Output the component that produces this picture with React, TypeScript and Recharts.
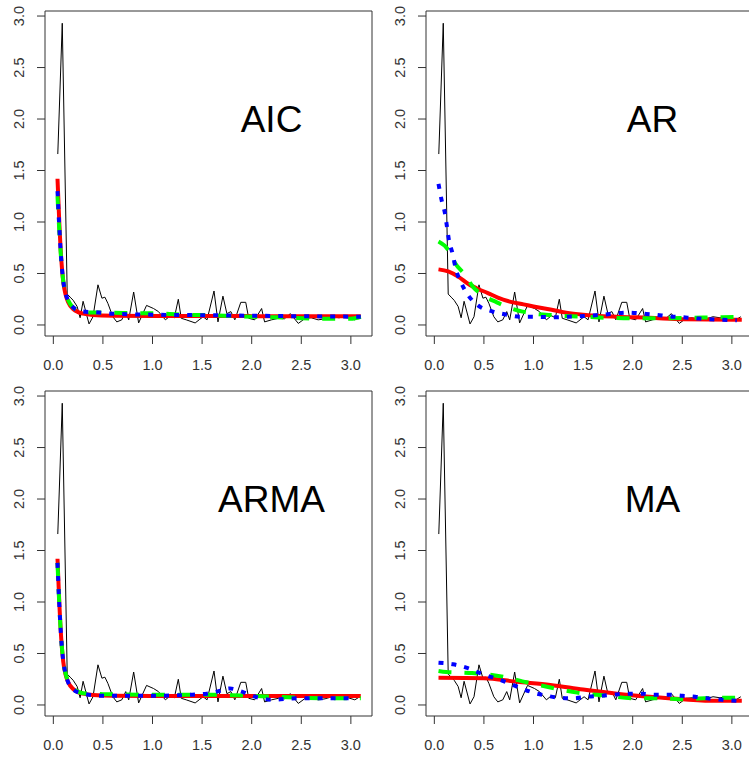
import { LineChart, Line, XAxis, YAxis, ReferenceArea, ReferenceDot } from "recharts";

const FONT = '"Liberation Sans", Arial, sans-serif';

// raw periodogram (same in every panel)
const freq = [
  0.045, 0.09, 0.14, 0.17, 0.2, 0.24, 0.27, 0.3, 0.36, 0.4, 0.45, 0.49, 0.52, 0.55, 0.6, 0.64,
  0.69, 0.73, 0.76, 0.81, 0.86, 0.94, 1.01, 1.06, 1.13, 1.18, 1.22, 1.26, 1.29, 1.34, 1.43, 1.51,
  1.55, 1.62, 1.66, 1.71, 1.75, 1.79, 1.83, 1.89, 1.94, 1.97, 2.03, 2.1, 2.13, 2.2, 2.27, 2.33,
  2.39, 2.47, 2.54, 2.6, 2.67, 2.74, 2.81, 2.88, 2.94, 3.04, 3.09,
];
const power = [
  1.66, 2.93, 0.3, 0.27, 0.24, 0.18, 0.07, 0.23, 0.01, 0.08, 0.39, 0.26, 0.27, 0.21, 0.08, 0.03,
  0.05, 0.13, 0.05, 0.32, 0.02, 0.19, 0.16, 0.13, 0.05, 0.09, 0.07, 0.25, 0.065, 0.05, 0.02, 0.08,
  0.05, 0.33, 0.03, 0.28, 0.11, 0.13, 0.05, 0.22, 0.22, 0.065, 0.05, 0.16, 0.03, 0.05, 0.065, 0.06,
  0.11, 0.015, 0.065, 0.07, 0.05, 0.06, 0.08, 0.07, 0.08, 0.05, 0.08,
];

// fitted spectra [freq, density]
const aicRed = [[0.042, 1.42], [0.06, 1.0], [0.08, 0.64], [0.1, 0.42], [0.125, 0.29], [0.15, 0.22], [0.2, 0.155], [0.25, 0.125], [0.3, 0.11], [0.4, 0.097], [0.6, 0.09], [1.0, 0.087], [2.0, 0.086], [3.1, 0.085]];
const aicGreen = [[0.042, 1.25], [0.06, 0.92], [0.08, 0.62], [0.1, 0.43], [0.125, 0.31], [0.15, 0.24], [0.2, 0.17], [0.25, 0.14], [0.3, 0.125], [0.4, 0.12], [0.6, 0.12], [0.8, 0.115], [1.0, 0.115], [1.3, 0.1], [1.6, 0.095], [2.0, 0.08], [2.4, 0.07], [2.7, 0.06], [3.0, 0.06], [3.1, 0.08]];
const aicBlue = [[0.042, 1.3], [0.06, 0.95], [0.08, 0.63], [0.1, 0.43], [0.125, 0.3], [0.15, 0.24], [0.2, 0.17], [0.25, 0.14], [0.3, 0.13], [0.4, 0.125], [0.6, 0.11], [1.0, 0.1], [1.5, 0.095], [2.0, 0.09], [2.5, 0.085], [3.1, 0.08]];

const arRed = [[0.042, 0.54], [0.14, 0.52], [0.24, 0.47], [0.34, 0.4], [0.44, 0.35], [0.54, 0.31], [0.64, 0.265], [0.77, 0.225], [0.9, 0.2], [1.0, 0.18], [1.17, 0.15], [1.33, 0.12], [1.5, 0.1], [1.84, 0.08], [2.17, 0.07], [2.51, 0.055], [3.1, 0.05]];
const arGreen = [[0.042, 0.81], [0.14, 0.73], [0.21, 0.6], [0.31, 0.485], [0.39, 0.37], [0.49, 0.29], [0.63, 0.22], [0.75, 0.17], [0.89, 0.13], [1.01, 0.11], [1.2, 0.095], [1.5, 0.08], [1.75, 0.07], [2.0, 0.065], [2.3, 0.065], [2.6, 0.07], [2.9, 0.075], [3.1, 0.08]];
const arBlue = [[0.042, 1.37], [0.074, 1.21], [0.108, 1.08], [0.128, 0.95], [0.15, 0.81], [0.185, 0.69], [0.215, 0.55], [0.27, 0.41], [0.34, 0.29], [0.44, 0.19], [0.59, 0.13], [0.73, 0.1], [0.86, 0.08], [1.0, 0.08], [1.2, 0.075], [1.35, 0.08], [1.55, 0.09], [1.7, 0.1], [1.85, 0.115], [1.96, 0.12], [2.1, 0.11], [2.23, 0.1], [2.36, 0.085], [2.5, 0.075], [2.63, 0.065], [2.77, 0.055], [2.9, 0.05], [3.05, 0.045]];

const armaRed = [[0.042, 1.42], [0.06, 1.0], [0.08, 0.64], [0.1, 0.42], [0.125, 0.29], [0.15, 0.22], [0.2, 0.155], [0.25, 0.125], [0.3, 0.11], [0.4, 0.097], [0.6, 0.09], [1.0, 0.088], [2.0, 0.087], [3.1, 0.087]];
const armaGreen = [[0.042, 1.38], [0.06, 0.98], [0.08, 0.64], [0.1, 0.43], [0.125, 0.3], [0.15, 0.23], [0.2, 0.16], [0.25, 0.13], [0.3, 0.115], [0.5, 0.105], [1.0, 0.1], [1.5, 0.1], [1.8, 0.095], [2.1, 0.085], [2.5, 0.07], [2.8, 0.065], [3.1, 0.065]];
const armaBlue = [[0.042, 1.38], [0.06, 0.98], [0.08, 0.64], [0.1, 0.43], [0.125, 0.3], [0.15, 0.22], [0.2, 0.15], [0.3, 0.11], [0.5, 0.09], [1.0, 0.09], [1.4, 0.1], [1.55, 0.11], [1.65, 0.13], [1.78, 0.16], [1.9, 0.13], [2.0, 0.09], [2.1, 0.065], [2.2, 0.05], [2.35, 0.06], [2.5, 0.065], [2.7, 0.065], [3.05, 0.065]];

const maRed = [[0.042, 0.265], [0.5, 0.26], [0.83, 0.226], [1.17, 0.195], [1.5, 0.15], [1.84, 0.11], [2.17, 0.08], [2.51, 0.055], [2.85, 0.04], [3.1, 0.04]];
const maGreen = [[0.042, 0.33], [0.12, 0.32], [0.38, 0.31], [0.66, 0.28], [0.93, 0.22], [1.17, 0.17], [1.44, 0.12], [1.74, 0.09], [2.0, 0.065], [2.28, 0.065], [2.51, 0.055], [2.82, 0.07], [3.1, 0.07]];
const maBlue = [[0.042, 0.41], [0.19, 0.395], [0.33, 0.36], [0.46, 0.31], [0.61, 0.26], [0.73, 0.22], [0.88, 0.16], [1.0, 0.12], [1.13, 0.09], [1.27, 0.07], [1.4, 0.065], [1.54, 0.08], [1.69, 0.09], [1.8, 0.1], [1.96, 0.11], [2.09, 0.11], [2.23, 0.1], [2.36, 0.1], [2.5, 0.09], [2.63, 0.08], [2.75, 0.065], [2.9, 0.05], [3.05, 0.04]];

const titles = ["AIC", "AR", "ARMA", "MA"];
const fits = [
  [aicRed, aicGreen, aicBlue],
  [arRed, arGreen, arBlue],
  [armaRed, armaGreen, armaBlue],
  [maRed, maGreen, maBlue],
];
const xTicks = [0, 0.5, 1, 1.5, 2, 2.5, 3];
const yTicks = [0, 0.5, 1, 1.5, 2, 2.5, 3];

const X_DOMAIN: [number, number] = [-0.084, 3.213];
const Y_DOMAIN: [number, number] = [-0.107, 3.049];
const POS = [
  { left: 0, top: 0 },
  { left: 381, top: 0 },
  { left: 0, top: 380 },
  { left: 381, top: 380 },
];

const pgram = freq.map((f, i) => ({ x: f, y: power[i] }));
const toPts = (pairs: number[][]) => pairs.map(([x, y]) => ({ x, y }));

function YTick(props: any) {
  const { x, y, payload } = props;
  const tx = x - 11;
  return (
    <text x={tx} y={y} transform={`rotate(-90 ${tx} ${y})`} textAnchor="middle" fontSize={14.5} fill="#333" fontFamily={FONT}>
      {payload.value.toFixed(1)}
    </text>
  );
}

function XTick(props: any) {
  const { x, y, payload } = props;
  return (
    <text x={x} y={y + 14} dy="0.71em" textAnchor="middle" fontSize={14.5} fill="#333" fontFamily={FONT}>
      {payload.value.toFixed(1)}
    </text>
  );
}

function Panel({ idx }: { idx: number }) {
  const [red, green, blue] = fits[idx];
  return (
    <div style={{ position: "absolute", left: POS[idx].left, top: POS[idx].top }}>
      <LineChart width={375} height={380} margin={{ top: 11, right: 3, left: 5, bottom: 4 }}>
        <XAxis
          type="number"
          dataKey="x"
          domain={X_DOMAIN}
          ticks={xTicks}
          allowDataOverflow
          axisLine={false}
          tickLine={{ stroke: "#333" }}
          tickSize={8}
          height={40}
          tick={<XTick />}
          interval={0}
        />
        <YAxis
          type="number"
          dataKey="y"
          domain={Y_DOMAIN}
          ticks={yTicks}
          allowDataOverflow
          axisLine={false}
          tickLine={{ stroke: "#333" }}
          tickSize={8}
          width={40}
          tick={<YTick />}
          interval={0}
        />
        <ReferenceArea x1={X_DOMAIN[0]} x2={X_DOMAIN[1]} y1={Y_DOMAIN[0]} y2={Y_DOMAIN[1]} fill="none" stroke="#333" strokeWidth={1} />
        <Line data={pgram} dataKey="y" type="linear" stroke="#000" strokeWidth={1} dot={false} isAnimationActive={false} />
        <Line data={toPts(red)} dataKey="y" type="monotone" stroke="#ff0000" strokeWidth={4} dot={false} isAnimationActive={false} />
        <Line data={toPts(green)} dataKey="y" type="monotone" stroke="#00ff00" strokeWidth={4} strokeDasharray="13 13" dot={false} isAnimationActive={false} />
        <Line data={toPts(blue)} dataKey="y" type="monotone" stroke="#0000ff" strokeWidth={4} strokeDasharray="5 8" dot={false} isAnimationActive={false} />
        <ReferenceDot
          x={2.2}
          y={2.0}
          r={0}
          fill="none"
          stroke="none"
          label={{ value: titles[idx], position: "center", fontSize: 37, fill: "#000", fontFamily: FONT }}
        />
      </LineChart>
    </div>
  );
}

export default function App() {
  return (
    <div style={{ position: "absolute", left: 0, top: 0, width: 749, height: 757, overflow: "hidden", background: "#fff" }}>
      {[0, 1, 2, 3].map((i) => (
        <Panel key={i} idx={i} />
      ))}
    </div>
  );
}
